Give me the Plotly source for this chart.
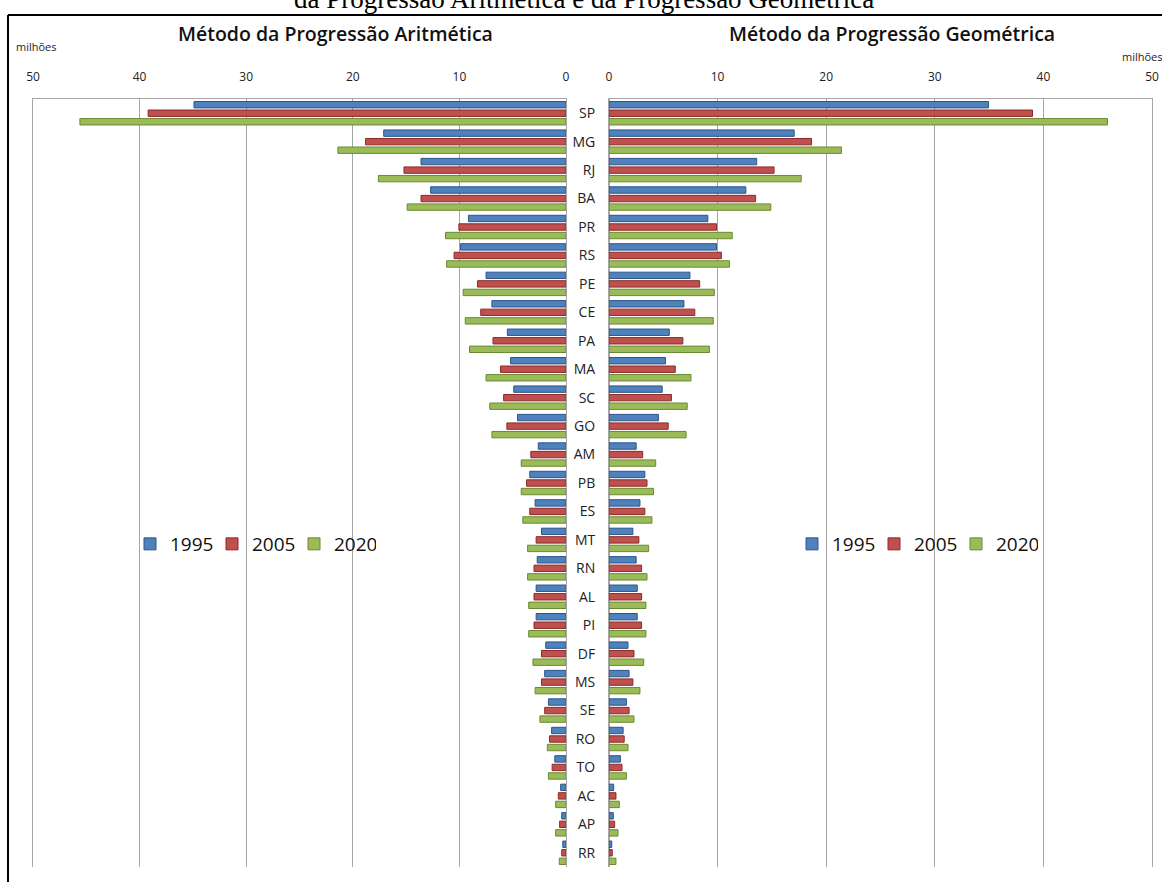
import plotly.graph_objects as go

# Population projections (millions) by state, two estimation methods
states = ["SP", "MG", "RJ", "BA", "PR", "RS", "PE", "CE", "PA", "MA", "SC", "GO", "AM", "PB",
          "ES", "MT", "RN", "AL", "PI", "DF", "MS", "SE", "RO", "TO", "AC", "AP", "RR"]
years = ["1995", "2005", "2020"]

# Arithmetic progression method
pa_1995 = [34.9, 17.1, 13.6, 12.7, 9.15, 9.9, 7.5, 6.95, 5.5, 5.2, 4.9, 4.55, 2.6, 3.4,
           2.9, 2.3, 2.7, 2.8, 2.8, 1.9, 2.0, 1.65, 1.35, 1.05, 0.5, 0.4, 0.3]
pa_2005 = [39.2, 18.8, 15.2, 13.6, 10.05, 10.5, 8.3, 8.0, 6.85, 6.15, 5.85, 5.55, 3.3, 3.7,
           3.4, 2.8, 3.0, 3.0, 3.0, 2.3, 2.3, 2.0, 1.55, 1.3, 0.72, 0.6, 0.4]
pa_2020 = [45.6, 21.4, 17.6, 14.9, 11.3, 11.2, 9.65, 9.45, 9.05, 7.5, 7.15, 6.95, 4.2, 4.2,
           4.05, 3.6, 3.6, 3.5, 3.5, 3.1, 2.9, 2.45, 1.75, 1.65, 0.97, 0.97, 0.63]

# Geometric progression method
pg_1995 = [34.95, 17.05, 13.6, 12.6, 9.1, 9.9, 7.45, 6.9, 5.55, 5.2, 4.9, 4.55, 2.5, 3.3,
           2.85, 2.2, 2.5, 2.6, 2.6, 1.75, 1.85, 1.6, 1.3, 1.05, 0.43, 0.4, 0.25]
pg_2005 = [39.0, 18.65, 15.2, 13.5, 9.9, 10.35, 8.35, 7.9, 6.8, 6.1, 5.75, 5.45, 3.1, 3.5,
           3.3, 2.75, 3.0, 3.0, 3.0, 2.3, 2.2, 1.85, 1.4, 1.2, 0.64, 0.52, 0.3]
pg_2020 = [45.9, 21.4, 17.7, 14.9, 11.35, 11.1, 9.7, 9.6, 9.25, 7.55, 7.2, 7.1, 4.3, 4.1,
           3.95, 3.65, 3.5, 3.4, 3.4, 3.2, 2.85, 2.3, 1.75, 1.6, 0.95, 0.83, 0.64]

x_ticks = [0, 10, 20, 30, 40, 50]

colors = ["#4F81BD", "#C0504D", "#9BBB59"]
edges = ["#2C5586", "#8C2A28", "#6A8A32"]

W, H = 1162, 882


def px(x):
    return x / W


def py(y):
    return 1 - y / H


fig = go.Figure()

for vals, yr, c, e in zip([pa_1995, pa_2005, pa_2020], years, colors, edges):
    fig.add_trace(go.Bar(
        y=states, x=vals, orientation="h", name=yr,
        marker=dict(color=c, line=dict(color=e, width=1)),
        xaxis="x", yaxis="y", legend="legend",
    ))

for vals, yr, c, e in zip([pg_1995, pg_2005, pg_2020], years, colors, edges):
    fig.add_trace(go.Bar(
        y=states, x=vals, orientation="h", name=yr,
        marker=dict(color=c, line=dict(color=e, width=1)),
        xaxis="x2", yaxis="y2", legend="legend2",
    ))

grid = "#A6A6A6"
tick_font = dict(family="Liberation Sans Narrow, Open Sans, sans-serif", size=12, color="#222")
cat_font = dict(family="Liberation Sans Narrow, Open Sans, sans-serif", size=14, color="#222")
y_dom = [py(867), py(99)]

common_x = dict(
    side="top", tickvals=x_ticks, showgrid=True, gridcolor=grid, gridwidth=1,
    zeroline=True, zerolinecolor=grid, zerolinewidth=1,
    showline=True, linecolor=grid, linewidth=1,
    ticks="outside", ticklen=0, ticklabelstandoff=12, tickfont=tick_font,
    automargin=False, fixedrange=True,
)
common_y = dict(
    domain=y_dom, type="category", categoryarray=states, autorange="reversed",
    showgrid=False, showline=True, mirror=True, linecolor=grid, linewidth=1,
    automargin=False, fixedrange=True,
)

legend_common = dict(
    orientation="h", yanchor="middle", xanchor="left",
    font=dict(family="Open Sans, sans-serif", size=19, color="#111"),
    bgcolor="rgba(0,0,0,0)", itemwidth=30, tracegroupgap=0,
    entrywidth=37, entrywidthmode="pixels",
)

fig.update_layout(
    width=W, height=H,
    margin=dict(l=0, r=0, t=0, b=0, autoexpand=False),
    paper_bgcolor="white", plot_bgcolor="white",
    barmode="group", bargap=0.10, bargroupgap=0.25,
    xaxis=dict(domain=[px(33), px(566)], range=[50, 0], anchor="y", **common_x),
    xaxis2=dict(domain=[px(609), px(1152)], range=[0, 50], anchor="y2", **common_x),
    yaxis=dict(anchor="x", showticklabels=False, **common_y),
    yaxis2=dict(anchor="x2", side="left", showticklabels=True, ticks="outside", ticklen=0,
                ticklabelstandoff=10, tickfont=cat_font, **common_y),
    legend=dict(x=px(130), y=py(544), **legend_common),
    legend2=dict(x=px(792), y=py(544), **legend_common),
    showlegend=True,
)

title_font = dict(family="Open Sans, sans-serif", size=19.5, color="#111", weight=600)
small_font = dict(family="Liberation Sans Narrow, Open Sans, sans-serif", size=11, color="#222")

fig.add_annotation(text="Método da Progressão Aritmética", x=px(335), y=py(33),
                   xref="paper", yref="paper", showarrow=False, font=title_font,
                   xanchor="center", yanchor="middle")
fig.add_annotation(text="Método da Progressão Geométrica", x=px(892), y=py(33),
                   xref="paper", yref="paper", showarrow=False, font=title_font,
                   xanchor="center", yanchor="middle")
fig.add_annotation(text="milhões", x=px(14), y=py(46),
                   xref="paper", yref="paper", showarrow=False, font=small_font,
                   xanchor="left", yanchor="middle")
fig.add_annotation(text="milhões", x=px(1120), y=py(56),
                   xref="paper", yref="paper", showarrow=False, font=small_font,
                   xanchor="left", yanchor="middle")
fig.add_annotation(text="da Progressão Aritmética e da Progressão Geométrica", x=px(584), y=py(16),
                   xref="paper", yref="paper", showarrow=False,
                   font=dict(family="Liberation Serif, Times New Roman, serif", size=27, color="#000"),
                   xanchor="center", yanchor="bottom")

# Outer black frame
fig.add_shape(type="line", xref="paper", yref="paper", x0=px(8), x1=1.0, y0=py(15), y1=py(15),
              line=dict(color="black", width=2))
fig.add_shape(type="line", xref="paper", yref="paper", x0=px(8), x1=px(8), y0=py(15), y1=0,
              line=dict(color="black", width=2))

fig.write_html("out.html")
